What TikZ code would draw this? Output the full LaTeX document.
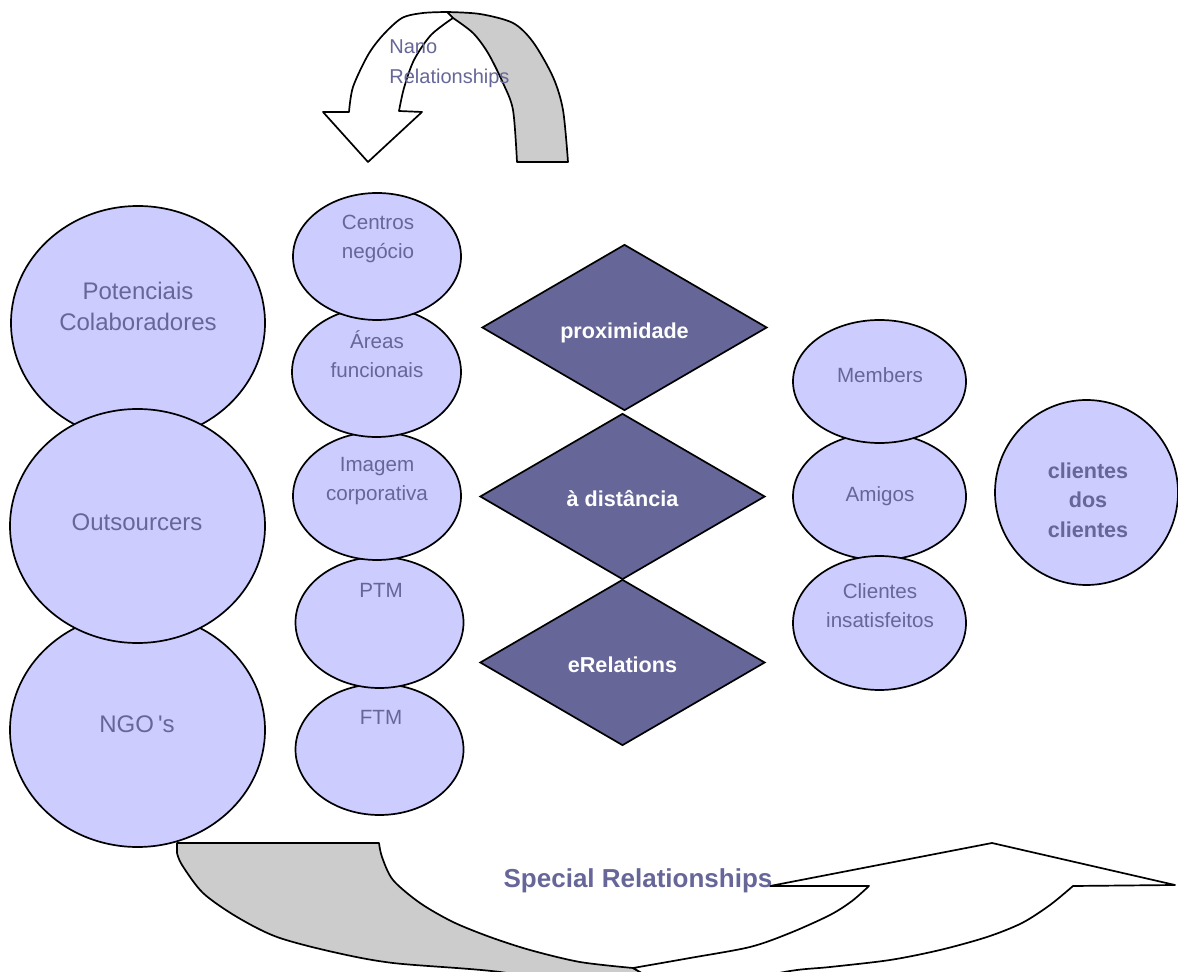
\documentclass[tikz,border=0pt]{standalone}
\usepackage{fontspec}
\setmainfont{Liberation Sans}
\usetikzlibrary{shapes.geometric}
\definecolor{lav}{HTML}{CCCCFF}
\definecolor{slate}{HTML}{666699}
\definecolor{ribbongray}{HTML}{CCCCCC}

\begin{document}
\begin{tikzpicture}[x=0.5pt,y=-0.5pt,
  blob/.style={ellipse, draw=black, fill=lav, line width=0.85pt, inner sep=0pt},
  rhomb/.style={diamond, draw=black, fill=slate, line width=0.85pt, inner sep=0pt,
    minimum width=142.5pt, minimum height=83pt},
  rhomblbl/.style={text=white, inner sep=0pt, font=\bfseries\fontsize{10.8}{13}\selectfont},
  lbl/.style={text=slate, align=center, inner sep=0pt},
  biglbl/.style={lbl, font=\fontsize{12}{15.5}\selectfont},
  midlbl/.style={lbl, font=\fontsize{10.3}{14.5}\selectfont},
  boldlbl/.style={lbl, font=\bfseries\fontsize{10.8}{14.8}\selectfont},
  ribbon/.style={draw=black, line width=0.85pt, line join=round}
]
\useasboundingbox (0,0) rectangle (1178,972);
\clip (0,0) rectangle (1178,972);

% ---- curved arrow at the top: back band, then front part with the head
\filldraw[ribbon, fill=ribbongray]
  plot[smooth] coordinates {(447,12) (480,14) (513,23) (533,42) (553,77) (563,110) (568,162)}
  -- (517,162)
  -- plot[smooth] coordinates {(517,162) (513,110) (503,83) (488,53) (473,33) (453,18)}
  -- cycle;
\filldraw[ribbon, fill=white]
  plot[smooth] coordinates {(447,12) (423,13) (402,18) (383,35) (368,55) (353,87) (349,112)}
  -- (323,112) -- (368,162) -- (422,112) -- (399,111)
  -- plot[smooth] coordinates {(399,111) (404,88) (414,60) (431,35) (453,18)}
  -- cycle;
\node[lbl, font=\fontsize{10}{15}\selectfont, align=left, anchor=west] (nano) at (389,64)
  {Nano\\Relationships};

% ---- curved arrow at the bottom: back band, then front part with the head
\filldraw[ribbon, fill=ribbongray]
  (177,843) -- (379,843)
  -- plot[smooth] coordinates {(379,843) (382,857) (393,880) (420,903) (453,922) (490,937) (530,950) (580,962) (633,968)}
  -- (680,995) -- (600,990)
  -- plot[smooth] coordinates {(600,990) (500,972) (393,963) (333,952) (277,937) (237,917) (203,893) (182,865) (177,853)}
  -- cycle;
\filldraw[ribbon, fill=white]
  plot[smooth] coordinates {(633,968) (690,958) (750,947) (790,933) (830,915) (852,901) (869,886)}
  -- (770,886) -- (992,843) -- (1175,885) -- (1073,886)
  -- plot[smooth] coordinates {(1073,886) (1050,905) (1022,923) (987,937) (940,950) (890,960) (830,967) (790,971) (720,985)}
  -- (680,995) -- cycle;
\node[lbl, font=\bfseries\fontsize{13}{15}\selectfont] (special) at (638,881) {Special Relationships};

% ---- left column
\node[blob, minimum width=127pt, minimum height=117pt] (pot) at (138,323) {};
\node[blob, minimum width=127.5pt, minimum height=117pt] (ngo) at (137.5,730) {};
\node[blob, minimum width=127.5pt, minimum height=117pt] (outs) at (137.5,526) {};
\node[biglbl] (potT) at (138,306) {Potenciais\\Colaboradores};
\node[biglbl] (outsT) at (137,522) {Outsourcers};
\node[biglbl] (ngoT) at (137,724) {NGO\kern2pt\textquotesingle s};

% ---- middle column, lower ones first
\node[blob, minimum width=84pt, minimum height=65.5pt] (ftm) at (379.5,749.5) {};
\node[blob, minimum width=84pt, minimum height=65.5pt] (ptm) at (379.5,622.5) {};
\node[blob, minimum width=84pt, minimum height=64pt] (img) at (377,496) {};
\node[blob, minimum width=84.5pt, minimum height=65pt] (are) at (376.5,372) {};
\node[blob, minimum width=84pt, minimum height=63.5pt] (cen) at (377,256.5) {};
\node[midlbl] (cenT) at (378,239) {Centros\\negócio};
\node[midlbl] (areT) at (377,354) {Áreas\\funcionais};
\node[midlbl] (imgT) at (377,481) {Imagem\\corporativa};
\node[midlbl] (ptmT) at (381,590) {PTM};
\node[midlbl] (ftmT) at (381,717) {FTM};

% ---- diamonds
\node[rhomb] (prox) at (624.5,327.5) {};
\node[rhomb] (dist) at (622.5,496.5) {};
\node[rhomb] (erel) at (622.5,662.5) {};
\node[rhomblbl] (proxT) at (624.5,332.5) {proximidade};
\node[rhomblbl] (distT) at (622.5,498.5) {à distância};
\node[rhomblbl] (erelT) at (622.5,664.5) {eRelations};

% ---- right column
\node[blob, minimum width=86.5pt, minimum height=63.5pt] (ami) at (879.5,496.5) {};
\node[blob, minimum width=86.5pt, minimum height=61.5pt] (mem) at (879.5,381.5) {};
\node[blob, minimum width=86.5pt, minimum height=67pt] (cli) at (879.5,623) {};
\node[midlbl] (memT) at (880,375) {Members};
\node[midlbl] (amiT) at (880,496) {Amigos};
\node[midlbl] (cliT) at (880,606) {Clientes\\insatisfeitos};

\node[blob, minimum width=91.5pt, minimum height=92.5pt] (cdc) at (1086.5,492.5) {};
\node[boldlbl] (cdcT) at (1088,500) {clientes\\dos\\clientes};
\end{tikzpicture}
\end{document}
